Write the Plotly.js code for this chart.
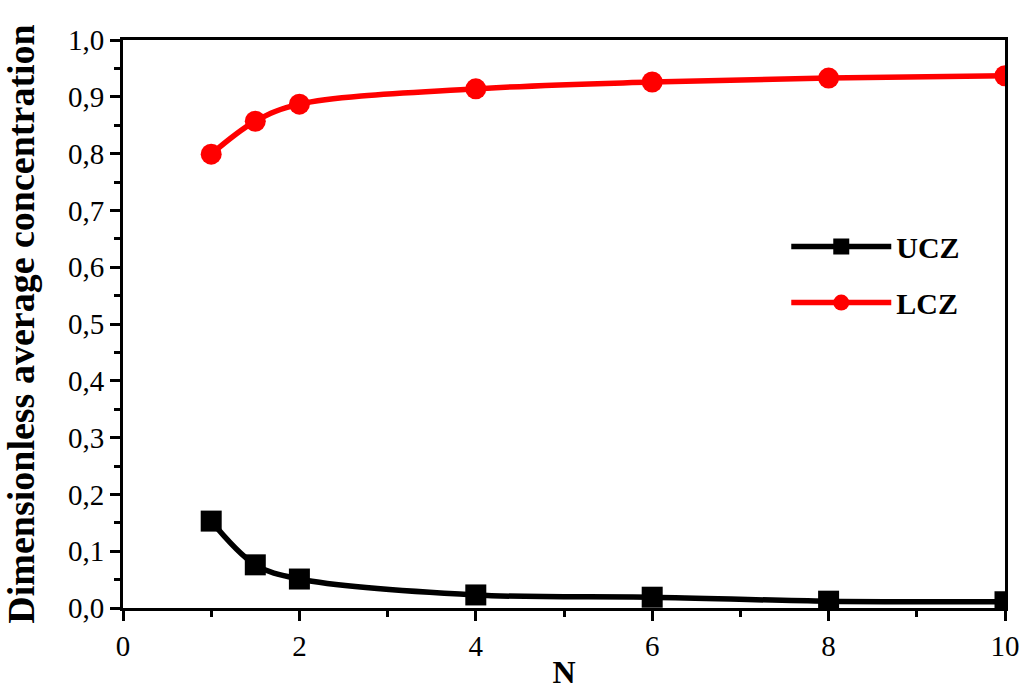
<!DOCTYPE html>
<html>
<head>
<meta charset="utf-8">
<script src="https://cdn.plot.ly/plotly-3.0.1.min.js"></script>
<style>html,body{margin:0;padding:0;background:#fff;}#chart{width:1024px;height:692px;}</style>
</head>
<body>
<div id="chart"></div>
<script>
const N = [1, 1.5, 2, 4, 6, 8, 10];
const ucz = [0.153, 0.076, 0.051, 0.023, 0.019, 0.012, 0.011];
const lcz = [0.799, 0.857, 0.887, 0.914, 0.926, 0.933, 0.937];
const xTickVals = [0, 2, 4, 6, 8, 10];
const yTickVals = [0, 0.1, 0.2, 0.3, 0.4, 0.5, 0.6, 0.7, 0.8, 0.9, 1.0];

const serif = "Liberation Serif, Times New Roman, serif";

const traces = [
  {
    x: N, y: ucz, name: 'UCZ', mode: 'lines+markers', legendgroup: 'a',
    line: {color: '#000', width: 5.5, shape: 'spline', smoothing: 1},
    marker: {symbol: 'square', size: 21, color: '#000'}
  },
  {
    x: N, y: lcz, name: 'LCZ', mode: 'lines+markers', legendgroup: 'b',
    line: {color: '#ff0000', width: 5.5, shape: 'spline', smoothing: 1},
    marker: {symbol: 'circle', size: 21, color: '#ff0000'}
  }
];

const layout = {
  width: 1024, height: 692,
  margin: {l: 123, r: 19, t: 40, b: 84},
  paper_bgcolor: '#fff', plot_bgcolor: '#fff',
  separators: ',.',
  font: {family: serif, color: '#000', size: 30},
  showlegend: true,
  legend: {
    x: 0.752, y: 0.682, xanchor: 'left', yanchor: 'top',
    bgcolor: 'rgba(0,0,0,0)', borderwidth: 0,
    font: {family: serif, size: 30, color: '#000', weight: 'bold'},
    itemwidth: 100, tracegroupgap: 14, traceorder: 'grouped'
  },
  xaxis: {
    range: [0, 10], tickvals: xTickVals, ticktext: xTickVals.map(String),
    ticks: 'outside', ticklen: 10, tickwidth: 3, tickcolor: '#000',
    minor: {dtick: 1, tick0: 0, ticks: 'outside', ticklen: 6, tickwidth: 3, tickcolor: '#000'},
    showline: true, linewidth: 3, linecolor: '#000', mirror: true,
    showgrid: false, zeroline: false,
    tickfont: {family: serif, size: 29, color: '#000'},
    title: {text: 'N', font: {family: serif, size: 32, color: '#000', weight: 'bold'}, standoff: 0}
  },
  yaxis: {
    range: [0, 1.0], tickvals: yTickVals, tickformat: '.1f',
    ticks: 'outside', ticklen: 10, tickwidth: 3, tickcolor: '#000',
    minor: {dtick: 0.05, tick0: 0, ticks: 'outside', ticklen: 6, tickwidth: 3, tickcolor: '#000'},
    showline: true, linewidth: 3, linecolor: '#000', mirror: true,
    showgrid: false, zeroline: false,
    tickfont: {family: serif, size: 29, color: '#000'},
    title: {text: 'Dimensionless average concentration', font: {family: serif, size: 38, color: '#000', weight: 'bold'}, standoff: 22}
  }
};

Plotly.newPlot('chart', traces, layout, {displayModeBar: false, staticPlot: true});
</script>
</body>
</html>
